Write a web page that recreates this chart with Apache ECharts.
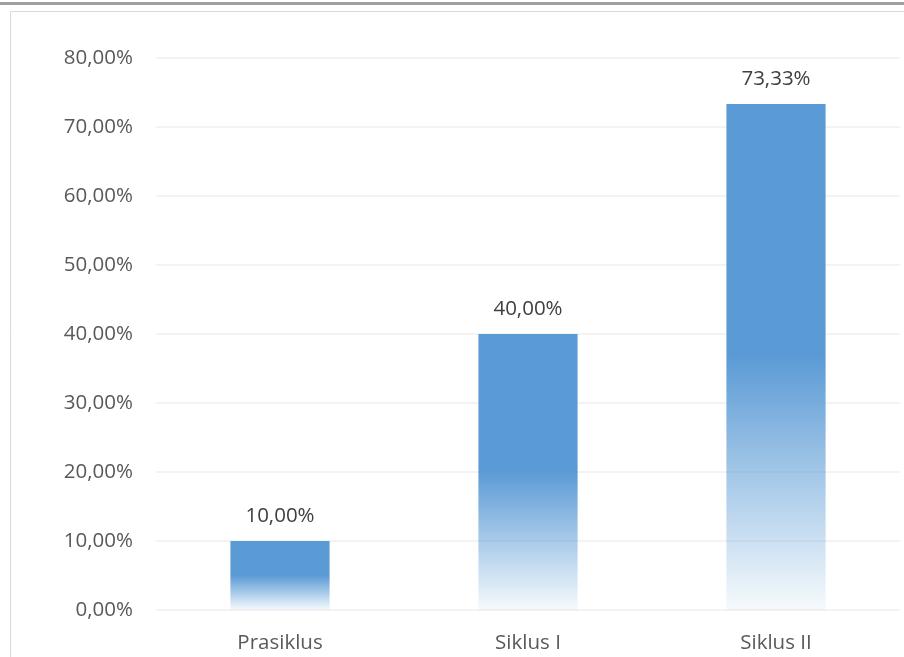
<!DOCTYPE html>
<html>
<head>
<meta charset="utf-8">
<script src="https://cdn.jsdelivr.net/npm/echarts@6/dist/echarts.min.js"></script>
<style>
html,body{margin:0;padding:0;background:#fff;}
#c{width:904px;height:657px;}
</style>
</head>
<body>
<div id="c"></div>
<script>
const categories = ['Prasiklus', 'Siklus I', 'Siklus II'];
const values = [10.00, 40.00, 73.33];
const yTicks = [0, 10, 20, 30, 40, 50, 60, 70, 80];

const fmt = v => v.toFixed(2).replace('.', ',') + '%';
const FONT = '"Open Sans", sans-serif';

const chart = echarts.init(document.getElementById('c'), null, {renderer: 'canvas'});
chart.setOption({
  animation: false,
  backgroundColor: '#ffffff',
  graphic: [
    {type: 'rect', shape: {x: 0, y: 2, width: 904, height: 3}, style: {fill: '#a0a0a0'}, silent: true},
    {type: 'rect', shape: {x: 10.5, y: 11.5, width: 1000, height: 1000}, style: {fill: 'none', stroke: '#d9d9d9', lineWidth: 1}, silent: true}
  ],
  grid: {left: 156, right: 4, top: 58, bottom: 47, containLabel: false},
  xAxis: {
    type: 'category',
    data: categories,
    axisLine: {show: false},
    axisTick: {show: false},
    axisLabel: {color: '#595959', fontSize: 20.5, fontFamily: FONT, margin: 23}
  },
  yAxis: {
    type: 'value',
    min: yTicks[0],
    max: yTicks[yTicks.length - 1],
    interval: 10,
    axisLine: {show: false},
    axisTick: {show: false},
    splitLine: {lineStyle: {color: '#efefef', width: 1.5}},
    axisLabel: {color: '#595959', fontSize: 20.5, fontFamily: FONT, margin: 23, formatter: v => fmt(v)}
  },
  series: [{
    type: 'bar',
    data: values,
    barWidth: '40%',
    itemStyle: {
      color: {
        type: 'linear', x: 0, y: 0, x2: 0, y2: 1,
        colorStops: [
          {offset: 0, color: '#5b9bd5'},
          {offset: 0.5, color: '#5b9bd5'},
          {offset: 1, color: 'rgba(91,155,213,0.05)'}
        ]
      }
    },
    label: {
      show: true,
      position: 'top',
      distance: 14,
      color: '#404040',
      fontSize: 20.5,
      fontFamily: FONT,
      formatter: p => fmt(p.value)
    }
  }]
});
</script>
</body>
</html>
